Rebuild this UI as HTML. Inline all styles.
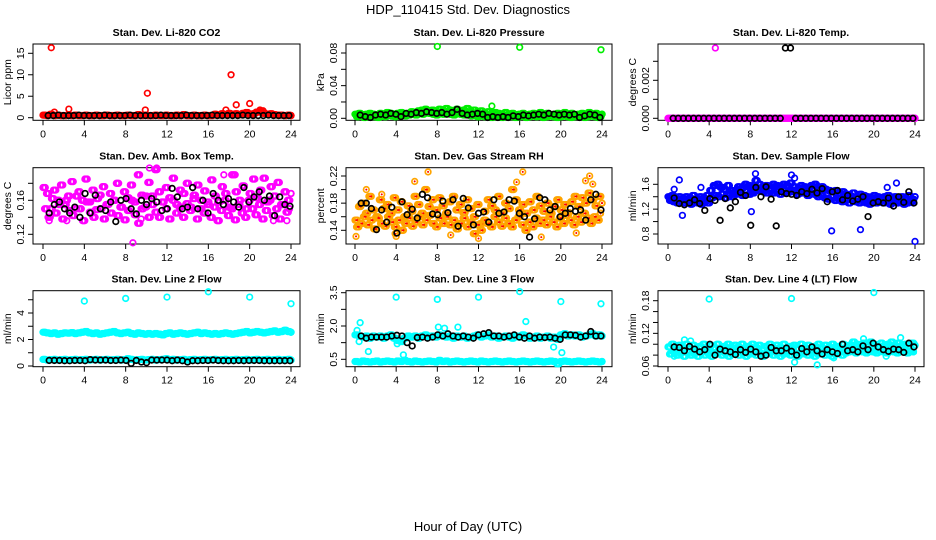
<!DOCTYPE html>
<html><head><meta charset="utf-8">
<style>
html,body{margin:0;padding:0;background:#fff;}
svg{display:block;font-family:"Liberation Sans",Arial,sans-serif;}
</style></head>
<body>
<svg id="chart" width="936" height="540" viewBox="0 0 936 540" xmlns="http://www.w3.org/2000/svg">
<text x="468" y="14" text-anchor="middle" font-size="13">HDP_110415  Std. Dev. Diagnostics</text>
<text x="468" y="531" text-anchor="middle" font-size="13">Hour of Day (UTC)</text>
</svg>
<script>
// ---- data ----
const xTicks = [0,4,8,12,16,20,24];
const co2Red = [0.6,0.5,0.8,0.5,0.6,0.5,0.5,0.6,0.5,0.6,0.5,0.5,0.6,0.5,0.5,0.6,0.5,0.5,0.6,0.5,0.5,0.6,0.5,0.5,0.6,0.5,0.5,0.7,0.5,0.6,0.5,0.5,0.6,0.5,0.5,0.6,0.5,0.5,0.6,0.5,0.7,0.5,0.5,0.6,0.5,0.5,0.6,0.5,0.5,0.8,0.6,0.9,0.7,1.0,0.8,0.9,0.7,1.0,1.2,0.8,0.9,1.3,1.4,1.0,0.8,0.9,0.7,0.6,0.6,0.5,0.6,0.5];
const co2OutX = [0.8,1.1,2.5,9.9,10.1,17.7,18.2,18.7,20,21,21.3];
const co2OutY = [16.3,1.3,2,1.8,5.7,1.8,10,3,3.3,1.8,1.6];
const co2Black = [0.5,0.5,0.6,0.5,0.5,0.5,0.6,0.5,0.5,0.5,0.5,0.6,0.5,0.5,0.5,0.5,0.6,0.5,0.5,0.5,0.5,0.5,0.6,0.5,0.5,0.5,0.5,0.6,0.5,0.5,0.5,0.5,0.6,0.5,0.5,0.5,0.5,0.5,0.6,0.5,0.5,0.5,0.5,0.6,0.5,0.5,0.5,0.5];

const presGreenA = [0.005,0.006,0.004,0.005,0.006,0.005,0.004,0.006,0.005,0.007,0.006,0.005,0.006,0.007,0.005,0.006,0.008,0.007,0.009,0.010,0.011,0.009,0.010,0.008,0.011,0.009,0.012,0.010,0.008,0.011,0.009,0.010,0.012,0.008,0.010,0.007,0.009,0.006,0.008,0.005,0.007,0.006,0.005,0.007,0.005,0.006,0.004,0.005,0.006,0.004,0.005,0.006,0.005,0.007,0.005,0.006,0.004,0.005,0.006,0.005,0.007,0.005,0.006,0.004,0.005,0.006,0.005,0.007,0.005,0.006,0.004,0.005];
const presGreenB = [0.002,0.003,0.001,0.002,0.003,0.002,0.001,0.003,0.002,0.004,0.003,0.002,0.003,0.004,0.003,0.004,0.005,0.004,0.006,0.005,0.007,0.006,0.005,0.004,0.006,0.005,0.007,0.005,0.004,0.006,0.005,0.004,0.006,0.003,0.004,0.002,0.003,0.002,0.003,0.001,0.002,0.003,0.001,0.002,0.003,0.002,0.001,0.002,0.003,0.001,0.002,0.003,0.002,0.003,0.001,0.002,0.003,0.002,0.001,0.002,0.003,0.002,0.001,0.002,0.003,0.002,0.001,0.002,0.003,0.002,0.001,0.002];
const presOutX = [8,16,23.9,13.3];
const presOutY = [0.088,0.087,0.084,0.015];
const presBlack = [0.004,0.002,0.001,0.004,0.005,0.004,0.006,0.005,0.002,0.006,0.005,0.007,0.006,0.008,0.007,0.006,0.007,0.005,0.007,0.011,0.006,0.004,0.005,0.006,0.005,0.001,0.002,0.001,0.002,0.001,0.003,0.002,0.004,0.003,0.004,0.005,0.004,0.006,0.005,0.004,0.005,0.004,0.005,0.001,0.003,0.005,0.004,0.001];

const tempMag = [0,0,0,0,0,0,0,0,0,0,0,0,0,0,0,0,0,0,0,0,0,0,0,0,0,0,0,0,0,0,0,0,0,0,0,0,0,0,0,0,0,0,0,0,0,0,0,0,0,0,0,0,0,0,0,0,0,0,0,0,0,0,0,0,0,0,0,0,0,0,0,0];
const tempOutX = [4.6];
const tempOutY = [0.0037];
const tempBlack = [0,0,0,0,0,0,0,0,0,0,0,0,0,0,0,0,0,0,0,0,0,0,0.0037,0.0037,0,0,0,0,0,0,0,0,0,0,0,0,0,0,0,0,0,0,0,0,0,0,0,0];

const ambA = [0.175,0.168,0.150,0.172,0.160,0.178,0.155,0.165,0.182,0.150,0.170,0.160,0.185,0.158,0.172,0.149,0.166,0.176,0.155,0.168,0.160,0.180,0.152,0.170,0.163,0.178,0.158,0.190,0.166,0.152,0.181,0.165,0.196,0.170,0.158,0.175,0.163,0.186,0.155,0.172,0.168,0.180,0.152,0.166,0.178,0.160,0.171,0.155,0.184,0.165,0.158,0.176,0.168,0.152,0.190,0.170,0.160,0.177,0.150,0.168,0.185,0.163,0.172,0.186,0.158,0.176,0.165,0.181,0.155,0.170,0.160,0.168];
const ambB = [0.150,0.140,0.162,0.145,0.155,0.138,0.160,0.148,0.142,0.165,0.150,0.136,0.158,0.146,0.140,0.162,0.150,0.138,0.155,0.145,0.160,0.142,0.152,0.137,0.148,0.160,0.143,0.133,0.150,0.165,0.140,0.155,0.146,0.140,0.158,0.150,0.138,0.160,0.145,0.152,0.140,0.156,0.148,0.162,0.138,0.150,0.145,0.158,0.140,0.152,0.136,0.148,0.160,0.142,0.150,0.137,0.155,0.145,0.140,0.160,0.150,0.143,0.155,0.138,0.148,0.160,0.142,0.150,0.138,0.155,0.146,0.150];
const ambOutX = [8.7,10.3,11,17.5,18.6,0.6,2.3,9.5,22.3,23.6];
const ambOutY = [0.110,0.198,0.198,0.190,0.190,0.136,0.136,0.138,0.136,0.136];
const ambBlack = [0.145,0.155,0.158,0.150,0.145,0.152,0.140,0.168,0.145,0.166,0.150,0.148,0.158,0.135,0.160,0.162,0.150,0.144,0.160,0.155,0.162,0.158,0.148,0.150,0.174,0.164,0.150,0.152,0.175,0.150,0.160,0.145,0.168,0.160,0.155,0.162,0.158,0.152,0.175,0.158,0.164,0.170,0.160,0.165,0.142,0.164,0.155,0.153];

const rhA = [0.155,0.175,0.180,0.165,0.190,0.170,0.160,0.185,0.172,0.178,0.165,0.188,0.170,0.182,0.160,0.176,0.168,0.190,0.178,0.165,0.200,0.175,0.185,0.170,0.188,0.176,0.165,0.182,0.190,0.170,0.178,0.166,0.185,0.172,0.160,0.178,0.150,0.168,0.185,0.176,0.170,0.190,0.165,0.180,0.172,0.200,0.185,0.170,0.178,0.165,0.182,0.170,0.190,0.176,0.168,0.180,0.165,0.175,0.185,0.170,0.178,0.166,0.182,0.190,0.175,0.188,0.180,0.195,0.185,0.176,0.190,0.180];
const rhB = [0.145,0.150,0.160,0.148,0.155,0.142,0.158,0.150,0.146,0.160,0.152,0.145,0.155,0.140,0.150,0.158,0.146,0.152,0.160,0.148,0.155,0.162,0.150,0.145,0.158,0.150,0.160,0.148,0.155,0.142,0.150,0.158,0.145,0.152,0.135,0.148,0.140,0.155,0.150,0.145,0.160,0.152,0.146,0.158,0.150,0.145,0.155,0.160,0.148,0.140,0.152,0.145,0.158,0.150,0.155,0.148,0.160,0.152,0.145,0.158,0.150,0.162,0.155,0.148,0.160,0.152,0.165,0.158,0.150,0.160,0.155,0.165];
const rhOutX = [0.1,1.1,2.6,4,5.8,7.1,3.9,12,15.7,16.3,18.1,22.8,23.1,22.4,9.3,21.5];
const rhOutY = [0.131,0.200,0.193,0.131,0.212,0.226,0.135,0.128,0.211,0.226,0.130,0.220,0.208,0.213,0.133,0.136];
const rhBlack = [0.180,0.180,0.172,0.141,0.170,0.152,0.174,0.136,0.182,0.163,0.171,0.158,0.193,0.188,0.164,0.163,0.183,0.166,0.185,0.146,0.187,0.173,0.148,0.165,0.167,0.152,0.185,0.165,0.167,0.185,0.183,0.165,0.160,0.130,0.157,0.188,0.185,0.170,0.175,0.160,0.165,0.172,0.168,0.170,0.155,0.185,0.193,0.170];

const flowBlueA = [1.40,1.42,1.38,1.40,1.36,1.40,1.38,1.42,1.36,1.40,1.38,1.42,1.50,1.58,1.60,1.55,1.52,1.58,1.50,1.48,1.56,1.54,1.60,1.58,1.55,1.66,1.60,1.56,1.58,1.54,1.60,1.58,1.56,1.60,1.58,1.62,1.56,1.52,1.58,1.56,1.54,1.58,1.60,1.54,1.56,1.52,1.50,1.48,1.50,1.46,1.48,1.44,1.42,1.46,1.40,1.44,1.42,1.40,1.38,1.42,1.40,1.38,1.40,1.42,1.38,1.40,1.36,1.40,1.38,1.42,1.36,1.40];
const flowBlueB = [1.34,1.32,1.30,1.34,1.30,1.32,1.28,1.34,1.30,1.28,1.32,1.30,1.38,1.42,1.40,1.44,1.38,1.42,1.40,1.44,1.46,1.42,1.48,1.44,1.46,1.50,1.52,1.48,1.46,1.50,1.46,1.48,1.44,1.50,1.46,1.48,1.50,1.44,1.46,1.48,1.42,1.46,1.44,1.40,1.42,1.38,1.36,1.40,1.34,1.36,1.32,1.34,1.30,1.34,1.32,1.30,1.34,1.30,1.28,1.32,1.30,1.34,1.30,1.32,1.28,1.32,1.30,1.32,1.28,1.30,1.32,1.30];
const flowOutX = [1.1,1.4,3.2,8.1,8.5,12,12.3,15.9,18.7,24,22.2,0.6,21.3];
const flowOutY = [1.67,1.10,1.55,1.16,1.77,1.75,1.70,0.85,0.87,0.68,1.62,1.52,1.55];
const flowBlack = [1.38,1.29,1.27,1.30,1.35,1.29,1.18,1.37,1.34,1.02,1.37,1.22,1.32,1.47,1.42,0.94,1.55,1.40,1.56,1.36,0.93,1.48,1.45,1.44,1.42,1.48,1.45,1.52,1.46,1.53,1.32,1.48,1.50,1.35,1.42,1.33,1.36,1.40,1.08,1.30,1.32,1.30,1.38,1.25,1.40,1.31,1.48,1.30];

const l2CyanTop = [2.55,2.50,2.45,2.50,2.40,2.45,2.50,2.48,2.52,2.45,2.50,2.55,2.60,2.50,2.45,2.50,2.40,2.45,2.50,2.55,2.60,2.50,2.45,2.50,2.55,2.45,2.40,2.50,2.45,2.40,2.45,2.40,2.45,2.40,2.35,2.45,2.50,2.40,2.45,2.50,2.45,2.40,2.45,2.50,2.55,2.45,2.50,2.45,2.40,2.45,2.40,2.45,2.50,2.45,2.40,2.45,2.50,2.55,2.60,2.50,2.55,2.60,2.55,2.50,2.55,2.60,2.65,2.55,2.60,2.70,2.60,2.55];
const l2CyanLow = [0.50,0.45,0.48,0.50,0.45,0.48,0.50,0.45,0.48,0.50,0.45,0.48,0.50,0.45,0.48,0.50,0.45,0.48,0.50,0.45,0.48,0.50,0.45,0.48,0.55,0.50,0.45,0.48,0.50,0.45,0.48,0.50,0.45,0.48,0.50,0.55,0.48,0.50,0.45,0.48,0.50,0.45,0.48,0.50,0.45,0.48,0.50,0.45,0.48,0.50,0.45,0.48,0.50,0.45,0.48,0.50,0.45,0.48,0.50,0.45,0.48,0.50,0.45,0.48,0.50,0.45,0.48,0.50,0.45,0.48,0.50,0.45];
const l2OutX = [4,8,12,16,20,24];
const l2OutY = [4.9,5.1,5.2,5.6,5.2,4.7];
const l2Black = [0.42,0.42,0.42,0.40,0.40,0.42,0.42,0.40,0.48,0.45,0.45,0.45,0.42,0.42,0.45,0.42,0.20,0.42,0.30,0.25,0.45,0.45,0.45,0.45,0.40,0.45,0.40,0.30,0.40,0.40,0.42,0.42,0.45,0.42,0.40,0.40,0.40,0.42,0.40,0.42,0.42,0.42,0.40,0.40,0.40,0.40,0.40,0.40];

const l3CyanTop = [1.60,1.55,1.50,1.55,1.45,1.55,1.50,1.55,1.45,1.55,1.60,1.45,1.35,1.30,1.45,1.55,1.50,1.55,1.45,1.55,1.60,1.50,1.55,1.50,1.60,1.55,1.50,1.55,1.45,1.55,1.50,1.55,1.45,1.50,1.55,1.60,1.50,1.55,1.60,1.50,1.55,1.45,1.50,1.55,1.50,1.45,1.55,1.50,1.60,1.55,1.45,1.50,1.55,1.45,1.50,1.55,1.45,1.50,1.40,1.60,1.65,1.55,1.60,1.55,1.60,1.50,1.55,1.60,1.65,1.55,1.60,1.55];
const l3CyanLow = [0.40,0.38,0.42,0.40,0.38,0.40,0.42,0.38,0.40,0.42,0.40,0.38,0.42,0.40,0.45,0.40,0.38,0.42,0.40,0.38,0.40,0.42,0.40,0.38,0.45,0.40,0.42,0.38,0.40,0.42,0.40,0.38,0.40,0.42,0.40,0.38,0.42,0.40,0.38,0.40,0.42,0.40,0.38,0.40,0.42,0.40,0.38,0.40,0.42,0.40,0.38,0.40,0.42,0.40,0.38,0.40,0.42,0.40,0.30,0.40,0.42,0.40,0.38,0.40,0.42,0.40,0.38,0.40,0.42,0.40,0.38,0.40];
const l3OutX = [0.2,0.5,0.4,1.3,4,4.1,4.7,8,8.1,8.7,10,12,16,16.6,19.3,20,20.1,23.9];
const l3OutY = [1.80,2.15,1.30,0.85,3.30,1.20,0.70,3.20,1.95,1.90,1.95,3.30,3.55,2.20,1.05,3.10,0.80,3.00];
const l3Black = [1.55,1.45,1.50,1.50,1.50,1.50,1.55,1.58,1.55,1.25,1.10,1.48,1.50,1.45,1.50,1.60,1.55,1.65,1.55,1.50,1.55,1.50,1.45,1.60,1.65,1.70,1.55,1.55,1.50,1.55,1.60,1.50,1.45,1.55,1.45,1.50,1.48,1.50,1.45,1.40,1.60,1.60,1.58,1.50,1.55,1.75,1.55,1.55];

const l4CyanA = [0.095,0.100,0.090,0.098,0.092,0.100,0.094,0.098,0.088,0.096,0.100,0.090,0.098,0.094,0.100,0.092,0.096,0.100,0.090,0.098,0.095,0.100,0.092,0.096,0.100,0.094,0.098,0.090,0.096,0.100,0.092,0.098,0.094,0.100,0.090,0.096,0.098,0.092,0.100,0.094,0.098,0.090,0.096,0.100,0.092,0.098,0.094,0.100,0.096,0.092,0.100,0.094,0.098,0.104,0.100,0.096,0.102,0.098,0.104,0.100,0.096,0.102,0.098,0.100,0.104,0.096,0.102,0.098,0.100,0.096,0.102,0.098];
const l4CyanB = [0.082,0.086,0.080,0.084,0.078,0.085,0.080,0.083,0.078,0.086,0.080,0.084,0.078,0.082,0.086,0.080,0.084,0.078,0.082,0.086,0.080,0.084,0.078,0.082,0.086,0.080,0.084,0.078,0.082,0.086,0.080,0.084,0.078,0.082,0.086,0.080,0.084,0.078,0.082,0.086,0.080,0.084,0.078,0.082,0.086,0.080,0.084,0.078,0.082,0.086,0.080,0.084,0.086,0.088,0.084,0.088,0.086,0.084,0.088,0.086,0.084,0.088,0.086,0.084,0.088,0.086,0.084,0.088,0.086,0.084,0.088,0.086];
const l4OutX = [4,12,20,1.6,2.2,19,22.6,12.3,14.5,0.6,21.2,16.1];
const l4OutY = [0.183,0.184,0.195,0.108,0.106,0.110,0.112,0.067,0.062,0.078,0.078,0.075];
const l4Black = [0.095,0.094,0.088,0.096,0.091,0.086,0.090,0.100,0.080,0.091,0.088,0.086,0.081,0.090,0.085,0.091,0.086,0.078,0.080,0.094,0.088,0.088,0.093,0.087,0.080,0.092,0.086,0.095,0.088,0.082,0.090,0.086,0.083,0.100,0.088,0.090,0.086,0.097,0.090,0.102,0.095,0.090,0.087,0.091,0.090,0.085,0.102,0.095];

// ---- layout ----
const svg = document.getElementById('chart');
const NS = 'http://www.w3.org/2000/svg';
const colL = [33,346,658], colR = [300,612,924], colX0 = [43,355,668], colX24 = [291,602,915];
const rowT = [44,167.7,290.7], rowB = [120.3,244,366.7];

function mk(tag, attrs, parent) {
  const e = document.createElementNS(NS, tag);
  for (const k in attrs) e.setAttribute(k, attrs[k]);
  (parent || svg).appendChild(e);
  return e;
}

function makePanel(col, row, title, ylab, v0, p0, v1, p1, ticks, labels, name) {
  const g = mk('g', {});
  
  
  const L = colL[col], R = colR[col], T = rowT[row], B = rowB[row];
  const xs = h => colX0[col] + (colX24[col] - colX0[col]) * h / 24;
  const ys = v => p0 + (p1 - p0) * (v - v0) / (v1 - v0);
  const fr = mk('rect', {x: L, y: T, width: R - L, height: B - T, fill: 'none', stroke: '#000', 'stroke-width': 1}, g);
  
  
  const t = mk('text', {x: (L + R) / 2, y: T - 8, 'text-anchor': 'middle', 'font-size': 10.5, 'font-weight': 'bold'}, g);
  t.textContent = title;
  
  
  const yl = mk('text', {x: 0, y: 0, 'text-anchor': 'middle', 'font-size': 10.5, transform: 'translate(' + (L - 22) + ',' + ((T + B) / 2) + ') rotate(-90)'}, g);
  yl.textContent = ylab;
  
  
  xTicks.forEach(h => {
    const x = xs(h);
    const tk = mk('line', {x1: x, x2: x, y1: B, y2: B + 5, stroke: '#000'}, g);
    
    
    const tl = mk('text', {x: x, y: B + 17, 'text-anchor': 'middle', 'font-size': 10.5}, g);
    tl.textContent = h;
    
    
  });
  ticks.forEach((v, i) => {
    const y = ys(v);
    const tk = mk('line', {x1: L - 5, x2: L, y1: y, y2: y, stroke: '#000'}, g);
    
    
    if (labels[i]) {
      const tl = mk('text', {x: 0, y: 0, 'text-anchor': 'middle', 'font-size': 10.5, transform: 'translate(' + (L - 9) + ',' + y + ') rotate(-90)'}, g);
      tl.textContent = labels[i];
      
      
    }
  });
  return {g, xs, ys};
}

function pts(panel, xsArr, ysArr, color, sname, dot) {
  for (let i = 0; i < ysArr.length; i++) {
    const c = mk('circle', {cx: panel.xs(xsArr[i]), cy: panel.ys(ysArr[i]), r: 2.8, fill: 'none', stroke: color, 'stroke-width': 1.7}, panel.g);
    
    
    if (dot) {
      const d = mk('circle', {cx: panel.xs(xsArr[i]), cy: panel.ys(ysArr[i]), r: 1, fill: dot}, panel.g);
      
      
    }
  }
}
function hoursFor(arr, start, end) {
  return arr.map((_, i) => start + (end - start) * i / (arr.length - 1));
}
function series(panel, arr, color, sname, start, end, dot) {
  pts(panel, hoursFor(arr, start, end), arr, color, sname, dot);
}
// dense series: each reading drawn as a short run of overlapping symbols (sub-samples)
function dense(panel, arr, color, sname, start, end, dot) {
  const hs = hoursFor(arr, start, end);
  const step = (end - start) / (arr.length - 1);
  [0, 0.33, 0.66].forEach(f => {
    pts(panel, hs.map(h => Math.min(end, h + step * f)), arr, color, sname, dot);
  });
}

const RED = '#ff0000', GREEN = '#00ee00', MAG = '#ff00ff', ORANGE = '#ffa500', BLUE = '#0000ff', CYAN = '#00ffff', BLK = '#000';

let p;
p = makePanel(0, 0, 'Stan. Dev. Li-820 CO2', 'Licor ppm', 0, 117.7, 15, 53.3, [0,5,10,15], ['0','5','10','15'], 'co2');
dense(p, co2Red, RED, 'co2-red', 0, 24);
pts(p, co2OutX, co2OutY, RED, 'co2-outlier');
series(p, co2Black, BLK, 'co2-black', 0.5, 23.8);

p = makePanel(1, 0, 'Stan. Dev. Li-820 Pressure', 'kPa', 0, 118.3, 0.08, 53, [0,0.02,0.04,0.06,0.08], ['0.00','','0.04','','0.08'], 'pressure');
dense(p, presGreenA, GREEN, 'pressure-green', 0, 24);
dense(p, presGreenB, GREEN, 'pressure-green-low', 0.15, 23.9);
pts(p, presOutX, presOutY, GREEN, 'pressure-outlier');
series(p, presBlack, BLK, 'pressure-black', 0.5, 23.8);

p = makePanel(2, 0, 'Stan. Dev. Li-820 Temp.', 'degrees C', 0, 118.3, 0.002, 80.3, [0,0.001,0.002,0.003], ['0.000','','0.002',''], 'temp');
dense(p, tempMag, MAG, 'temp-magenta', 0, 24);
pts(p, tempOutX, tempOutY, MAG, 'temp-outlier');
series(p, tempBlack, BLK, 'temp-black', 0.5, 23.8);

p = makePanel(0, 1, 'Stan. Dev. Amb. Box Temp.', 'degrees C', 0.12, 234.3, 0.16, 200.3, [0.12,0.14,0.16,0.18], ['0.12','','0.16',''], 'ambbox');
dense(p, ambA, MAG, 'ambbox-magenta', 0, 24);
dense(p, ambB, MAG, 'ambbox-magenta-low', 0.15, 23.85);
pts(p, ambOutX, ambOutY, MAG, 'ambbox-outlier');
series(p, ambBlack, BLK, 'ambbox-black', 0.6, 23.9);

p = makePanel(1, 1, 'Stan. Dev. Gas Stream RH', 'percent', 0.14, 230.3, 0.22, 176, [0.14,0.16,0.18,0.20,0.22], ['0.14','','0.18','','0.22'], 'rh');
dense(p, rhA, ORANGE, 'rh-orange', 0, 24, RED);
dense(p, rhB, ORANGE, 'rh-orange-low', 0.15, 23.85, RED);
pts(p, rhOutX, rhOutY, ORANGE, 'rh-outlier', RED);
series(p, rhBlack, BLK, 'rh-black', 0.6, 23.9);

p = makePanel(2, 1, 'Stan. Dev. Sample Flow', 'ml/min', 0.8, 234, 1.6, 184.3, [0.8,1.0,1.2,1.4,1.6], ['0.8','','1.2','','1.6'], 'sampleflow');
dense(p, flowBlueA, BLUE, 'sampleflow-blue', 0, 24);
dense(p, flowBlueB, BLUE, 'sampleflow-blue-low', 0.15, 23.85);
pts(p, flowOutX, flowOutY, BLUE, 'sampleflow-outlier');
series(p, flowBlack, BLK, 'sampleflow-black', 0.6, 23.9);

p = makePanel(0, 2, 'Stan. Dev. Line 2 Flow', 'ml/min', 0, 366, 4, 313, [0,1,2,3,4,5], ['0','','2','','4',''], 'line2');
dense(p, l2CyanTop, CYAN, 'line2-cyan', 0, 24);
dense(p, l2CyanLow, CYAN, 'line2-cyan-low', 0, 24);
pts(p, l2OutX, l2OutY, CYAN, 'line2-outlier');
series(p, l2Black, BLK, 'line2-black', 0.6, 23.9);

p = makePanel(1, 2, 'Stan. Dev. Line 3 Flow', 'ml/min', 0.5, 359.3, 3.5, 292.7, [0.5,1.25,2.0,2.75,3.5], ['0.5','','2.0','','3.5'], 'line3');
dense(p, l3CyanTop, CYAN, 'line3-cyan', 0, 24);
dense(p, l3CyanLow, CYAN, 'line3-cyan-low', 0, 24);
pts(p, l3OutX, l3OutY, CYAN, 'line3-outlier');
series(p, l3Black, BLK, 'line3-black', 0.6, 23.9);

p = makePanel(2, 2, 'Stan. Dev. Line 4 (LT) Flow', 'ml/min', 0.06, 366, 0.18, 300.7, [0.06,0.08,0.10,0.12,0.14,0.16,0.18], ['0.06','','','0.12','','','0.18'], 'line4');
dense(p, l4CyanA, CYAN, 'line4-cyan', 0, 24);
dense(p, l4CyanB, CYAN, 'line4-cyan-low', 0.15, 23.85);
pts(p, l4OutX, l4OutY, CYAN, 'line4-outlier');
series(p, l4Black, BLK, 'line4-black', 0.6, 23.9);
</script>
</body></html>
